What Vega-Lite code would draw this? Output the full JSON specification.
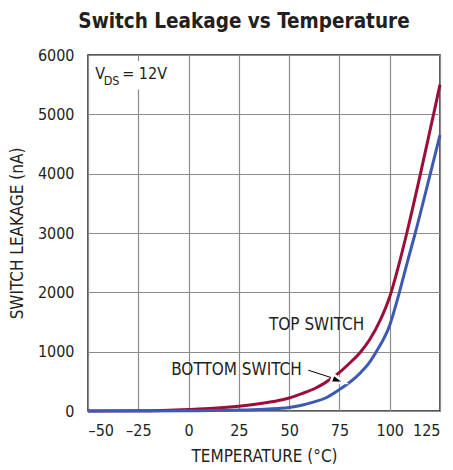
{
  "$schema": "https://vega.github.io/schema/vega-lite/v6.json",
  "width": 352,
  "height": 356,
  "autosize": {"type": "none"},
  "padding": {"left": 88, "top": 55, "right": 13, "bottom": 59},
  "title": {
    "text": "Switch Leakage vs Temperature",
    "font": "DejaVu Sans Condensed",
    "fontSize": 20.5,
    "fontWeight": "bold",
    "color": "#231f20",
    "anchor": "middle",
    "frame": "group",
    "dx": -20,
    "offset": 15
  },
  "config": {
    "font": "DejaVu Sans Condensed",
    "view": {"stroke": "#231f20", "strokeWidth": 1.5},
    "axis": {
      "grid": true,
      "gridColor": "#8c8c8c",
      "gridWidth": 1.2,
      "domain": false,
      "ticks": false,
      "tickSize": 0,
      "labelFont": "DejaVu Sans Condensed",
      "labelFontSize": 16,
      "labelColor": "#231f20",
      "titleFont": "DejaVu Sans Condensed",
      "titleFontSize": 17,
      "titleFontWeight": "normal",
      "titleColor": "#231f20"
    }
  },
  "datasets": {
    "curves": [
      {"t": -50, "v": 0, "s": "TOP"},
      {"t": -25, "v": 3, "s": "TOP"},
      {"t": 0, "v": 25, "s": "TOP"},
      {"t": 12.5, "v": 45, "s": "TOP"},
      {"t": 25, "v": 80, "s": "TOP"},
      {"t": 37.5, "v": 135, "s": "TOP"},
      {"t": 46, "v": 185, "s": "TOP"},
      {"t": 50, "v": 220, "s": "TOP"},
      {"t": 56, "v": 290, "s": "TOP"},
      {"t": 62.5, "v": 375, "s": "TOP"},
      {"t": 67.8, "v": 474, "s": "TOP"},
      {"t": 75, "v": 650, "s": "TOP"},
      {"t": 80, "v": 805, "s": "TOP"},
      {"t": 85, "v": 975, "s": "TOP"},
      {"t": 90, "v": 1200, "s": "TOP"},
      {"t": 95.3, "v": 1530, "s": "TOP"},
      {"t": 100, "v": 1924, "s": "TOP"},
      {"t": 104.5, "v": 2460, "s": "TOP"},
      {"t": 108.5, "v": 3000, "s": "TOP"},
      {"t": 115.3, "v": 4000, "s": "TOP"},
      {"t": 121.8, "v": 5000, "s": "TOP"},
      {"t": 125, "v": 5500, "s": "TOP"},
      {"t": -50, "v": 0, "s": "BOTTOM"},
      {"t": -25, "v": 1, "s": "BOTTOM"},
      {"t": 0, "v": 5, "s": "BOTTOM"},
      {"t": 25, "v": 16, "s": "BOTTOM"},
      {"t": 37.5, "v": 30, "s": "BOTTOM"},
      {"t": 46, "v": 45, "s": "BOTTOM"},
      {"t": 50, "v": 60, "s": "BOTTOM"},
      {"t": 56.2, "v": 98, "s": "BOTTOM"},
      {"t": 62, "v": 150, "s": "BOTTOM"},
      {"t": 67.8, "v": 215, "s": "BOTTOM"},
      {"t": 75, "v": 363, "s": "BOTTOM"},
      {"t": 80, "v": 480, "s": "BOTTOM"},
      {"t": 85.6, "v": 650, "s": "BOTTOM"},
      {"t": 89.5, "v": 800, "s": "BOTTOM"},
      {"t": 93.3, "v": 1000, "s": "BOTTOM"},
      {"t": 100, "v": 1447, "s": "BOTTOM"},
      {"t": 104.8, "v": 2000, "s": "BOTTOM"},
      {"t": 108.7, "v": 2500, "s": "BOTTOM"},
      {"t": 112.7, "v": 3000, "s": "BOTTOM"},
      {"t": 120.2, "v": 4000, "s": "BOTTOM"},
      {"t": 125, "v": 4650, "s": "BOTTOM"}
    ]
  },
  "layer": [
    {
      "data": {"values": [{"t1": -30, "t2": -20, "v1": 5420, "v2": 5900}]},
      "mark": {"type": "rect", "fill": "white"},
      "encoding": {
        "x": {
          "field": "t1",
          "type": "quantitative",
          "scale": {"domain": [-50, 125], "nice": false},
          "axis": {
            "values": [-50, -25, 0, 25, 50, 75, 100, 125],
            "labelExpr": "datum.value < 0 ? '–' + abs(datum.value) : datum.label",
            "labelPadding": 11,
            "title": "TEMPERATURE (°C)",
            "titlePadding": 10
          }
        },
        "x2": {"field": "t2"},
        "y": {
          "field": "v1",
          "type": "quantitative",
          "scale": {"domain": [0, 6000], "nice": false},
          "axis": {
            "values": [0, 1000, 2000, 3000, 4000, 5000, 6000],
            "format": "d",
            "labelPadding": 14,
            "title": "SWITCH LEAKAGE (nA)",
            "titlePadding": 11
          }
        },
        "y2": {"field": "v2"}
      }
    },
    {
      "data": {"name": "curves"},
      "mark": {"type": "line", "interpolate": "monotone", "strokeWidth": 3},
      "encoding": {
        "x": {"field": "t", "type": "quantitative"},
        "y": {"field": "v", "type": "quantitative"},
        "detail": {"field": "s"},
        "color": {
          "field": "s",
          "type": "nominal",
          "scale": {"domain": ["BOTTOM", "TOP"], "range": ["#3b5bb2", "#9c0d38"]},
          "legend": null
        }
      }
    },
    {
      "data": {"values": [{"t1": 59.5, "v1": 688, "t2": 73, "v2": 540}]},
      "mark": {"type": "rule", "color": "black", "strokeWidth": 1},
      "encoding": {
        "x": {"field": "t1", "type": "quantitative"},
        "y": {"field": "v1", "type": "quantitative"},
        "x2": {"field": "t2"},
        "y2": {"field": "v2"}
      }
    },
    {
      "data": {"values": [{"t": 77.8, "v": 474}]},
      "mark": {
        "type": "point",
        "shape": "M0,0L-2,-0.62L-2,0.62Z",
        "size": 190,
        "angle": 19,
        "filled": true,
        "fill": "black",
        "stroke": "white",
        "strokeWidth": 2.5,
        "opacity": 1
      },
      "encoding": {
        "x": {"field": "t", "type": "quantitative"},
        "y": {"field": "v", "type": "quantitative"}
      }
    },
    {
      "data": {"values": [
        {"t": 63.65, "v": 1447, "label": "TOP SWITCH"},
        {"t": 23.8, "v": 688, "label": "BOTTOM SWITCH"}
      ]},
      "mark": {"type": "text", "align": "center", "baseline": "middle", "fontSize": 17, "font": "DejaVu Sans Condensed", "color": "#231f20"},
      "encoding": {
        "x": {"field": "t", "type": "quantitative"},
        "y": {"field": "v", "type": "quantitative"},
        "text": {"field": "label"}
      }
    },
    {
      "data": {"values": [
        {"t": -46.35, "v": 5590, "label": "V", "sz": "big"},
        {"t": -42.2, "v": 5494, "label": "DS", "sz": "small"},
        {"t": -33, "v": 5590, "label": "= 12V", "sz": "big"}
      ]},
      "mark": {"type": "text", "align": "left", "baseline": "alphabetic", "font": "DejaVu Sans Condensed", "color": "#231f20"},
      "encoding": {
        "x": {"field": "t", "type": "quantitative"},
        "y": {"field": "v", "type": "quantitative"},
        "text": {"field": "label"},
        "size": {"field": "sz", "type": "nominal", "scale": {"domain": ["big", "small"], "range": [16, 12.5]}, "legend": null}
      }
    }
  ]
}
